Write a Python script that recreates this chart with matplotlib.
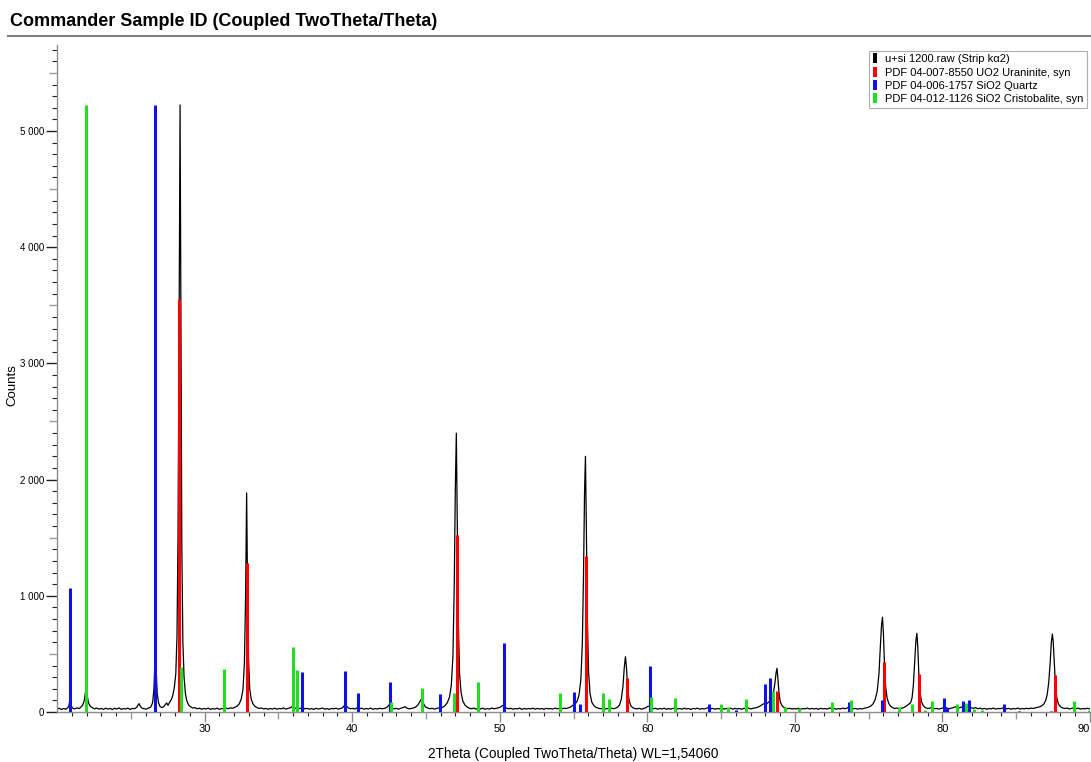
import matplotlib
matplotlib.use('Agg')
import matplotlib.pyplot as plt
import matplotlib.ticker as mticker
from matplotlib.lines import Line2D

plt.rcParams['font.family'] = ['Liberation Sans', 'DejaVu Sans']

# measured scan (2theta, counts)
scan_points = [
    (20.0,25),(20.15,32),(20.3,22),(20.45,30),(20.6,24),(20.72,36),(20.8,48),(20.88,110),(20.95,55),(21.05,34),
    (21.2,26),(21.35,35),(21.5,30),(21.62,42),(21.74,60),(21.84,95),(21.92,160),(21.98,210),(22.05,140),(22.13,80),
    (22.25,50),(22.4,36),(22.55,28),(22.7,34),(22.85,24),(23.0,31),(23.15,22),(23.3,33),(23.45,25),(23.6,30),
    (23.75,21),(23.9,32),(24.05,26),(24.2,35),(24.35,23),(24.5,30),(24.65,25),(24.8,34),(24.95,22),(25.1,31),
    (25.25,28),(25.4,40),(25.5,62),(25.56,72),(25.64,50),(25.75,34),(25.9,28),(26.05,25),(26.2,34),(26.35,42),
    (26.48,80),(26.57,200),(26.63,430),(26.67,560),(26.72,360),(26.79,160),(26.88,80),(26.98,48),(27.1,38),(27.22,45),
    (27.33,62),(27.43,78),(27.52,58),(27.6,75),(27.68,95),(27.76,110),(27.85,145),(27.95,210),(28.05,330),(28.13,650),
    (28.2,1500),(28.27,3200),(28.34,5224),(28.4,3300),(28.46,1400),(28.53,600),(28.61,300),(28.7,160),(28.8,95),(28.92,60),
    (29.05,45),(29.2,34),(29.35,38),(29.5,27),(29.65,33),(29.8,24),(29.95,30),(30.1,26),(30.25,34),(30.4,22),
    (30.55,29),(30.7,25),(30.85,33),(31.0,23),(31.15,30),(31.3,26),(31.45,34),(31.6,28),(31.75,36),(31.9,32),
    (32.05,40),(32.2,50),(32.35,70),(32.48,110),(32.6,190),(32.7,420),(32.78,1000),(32.85,1885),(32.91,1100),(32.98,450),
    (33.06,200),(33.16,110),(33.28,70),(33.4,50),(33.55,38),(33.7,30),(33.85,35),(34.0,26),(34.15,31),(34.3,23),
    (34.45,30),(34.6,25),(34.75,33),(34.9,24),(35.05,30),(35.2,27),(35.35,35),(35.5,25),(35.65,31),(35.8,36),
    (35.95,48),(36.05,40),(36.2,30),(36.35,26),(36.5,33),(36.65,38),(36.8,27),(36.95,31),(37.1,24),(37.25,30),
    (37.4,22),(37.55,32),(37.7,26),(37.85,29),(38.0,34),(38.15,24),(38.3,30),(38.45,22),(38.6,31),(38.75,27),
    (38.9,33),(39.05,25),(39.2,30),(39.35,36),(39.47,55),(39.55,70),(39.63,48),(39.75,34),(39.9,28),(40.05,31),
    (40.2,25),(40.35,38),(40.5,28),(40.65,33),(40.8,24),(40.95,30),(41.1,26),(41.25,34),(41.4,23),(41.55,30),
    (41.7,25),(41.85,32),(42.0,28),(42.15,30),(42.3,36),(42.42,48),(42.5,62),(42.58,45),(42.7,33),(42.85,28),
    (43.0,31),(43.15,24),(43.3,33),(43.45,38),(43.58,46),(43.7,34),(43.85,27),(44.0,30),(44.15,35),(44.3,42),
    (44.45,60),(44.57,85),(44.67,108),(44.76,100),(44.86,65),(44.98,42),(45.12,34),(45.27,28),(45.42,32),(45.57,25),
    (45.72,30),(45.87,36),(46.0,33),(46.15,42),(46.3,55),(46.45,80),(46.6,130),(46.72,230),(46.83,480),(46.92,1100),
    (46.99,1900),(47.06,2400),(47.12,1700),(47.19,800),(47.28,330),(47.38,170),(47.5,95),(47.64,60),(47.8,42),(47.95,33),
    (48.1,28),(48.25,34),(48.4,24),(48.55,31),(48.7,26),(48.85,33),(49.0,23),(49.15,30),(49.3,25),(49.45,34),
    (49.6,28),(49.75,31),(49.9,36),(50.05,42),(50.15,52),(50.24,58),(50.33,44),(50.45,34),(50.6,28),(50.75,32),
    (50.9,24),(51.05,30),(51.2,26),(51.35,34),(51.5,22),(51.65,31),(51.8,25),(51.95,30),(52.1,27),(52.25,33),
    (52.4,24),(52.55,31),(52.7,26),(52.85,30),(53.0,23),(53.15,32),(53.3,27),(53.45,30),(53.6,25),(53.75,34),
    (53.9,28),(54.05,31),(54.2,26),(54.35,33),(54.5,30),(54.65,36),(54.8,42),(54.92,55),(55.02,62),(55.12,70),
    (55.25,95),(55.38,150),(55.5,280),(55.6,600),(55.68,1200),(55.75,1900),(55.81,2200),(55.87,1600),(55.94,800),(56.02,350),
    (56.12,160),(56.24,85),(56.38,55),(56.52,40),(56.68,33),(56.82,28),(56.97,32),(57.12,25),(57.27,30),(57.42,24),
    (57.57,33),(57.72,28),(57.87,34),(58.0,42),(58.12,60),(58.24,110),(58.35,220),(58.44,380),(58.52,476),(58.59,380),
    (58.67,200),(58.77,100),(58.88,55),(59.0,38),(59.15,30),(59.3,26),(59.45,32),(59.6,24),(59.75,30),(59.9,36),
    (60.02,48),(60.12,50),(60.25,36),(60.4,28),(60.55,32),(60.7,24),(60.85,30),(61.0,26),(61.15,33),(61.3,23),
    (61.45,30),(61.6,25),(61.75,31),(61.9,34),(62.05,27),(62.2,30),(62.35,24),(62.5,33),(62.65,26),(62.8,30),
    (62.95,22),(63.1,31),(63.25,27),(63.4,33),(63.55,24),(63.7,30),(63.85,26),(64.0,32),(64.15,38),(64.3,28),
    (64.45,31),(64.6,24),(64.75,30),(64.9,26),(65.05,34),(65.2,25),(65.35,30),(65.5,27),(65.65,33),(65.8,24),
    (65.95,31),(66.1,26),(66.25,30),(66.4,23),(66.55,32),(66.7,28),(66.85,34),(67.0,26),(67.15,31),(67.3,35),
    (67.45,40),(67.6,48),(67.72,58),(67.85,68),(67.97,75),(68.08,70),(68.2,82),(68.32,95),(68.44,120),(68.55,170),
    (68.65,250),(68.73,340),(68.79,376),(68.85,290),(68.92,170),(69.0,95),(69.1,60),(69.22,42),(69.36,34),(69.5,28),
    (69.65,32),(69.8,25),(69.95,30),(70.1,26),(70.25,33),(70.4,24),(70.55,30),(70.7,27),(70.85,34),(71.0,25),
    (71.15,31),(71.3,26),(71.45,30),(71.6,23),(71.75,32),(71.9,27),(72.05,30),(72.2,25),(72.35,34),(72.5,29),
    (72.65,31),(72.8,24),(72.95,30),(73.1,26),(73.25,33),(73.4,28),(73.55,35),(73.7,40),(73.82,32),(73.95,27),
    (74.1,31),(74.25,24),(74.4,30),(74.55,26),(74.7,32),(74.85,36),(75.0,42),(75.15,52),(75.3,70),(75.45,110),
    (75.58,180),(75.7,330),(75.8,580),(75.88,760),(75.94,815),(76.0,680),(76.07,420),(76.15,220),(76.25,120),(76.36,75),
    (76.48,50),(76.62,38),(76.77,30),(76.92,34),(77.07,27),(77.22,32),(77.37,38),(77.52,48),(77.64,60),(77.74,70),
    (77.84,80),(77.94,120),(78.03,230),(78.12,430),(78.2,610),(78.27,677),(78.33,560),(78.4,330),(78.48,170),(78.58,90),
    (78.7,55),(78.84,38),(79.0,30),(79.15,34),(79.3,40),(79.45,28),(79.6,31),(79.75,25),(79.9,30),(80.05,36),
    (80.18,44),(80.3,34),(80.45,28),(80.6,33),(80.75,38),(80.9,45),(81.02,40),(81.15,36),(81.3,42),(81.42,50),
    (81.55,38),(81.7,44),(81.82,48),(81.95,36),(82.1,32),(82.25,38),(82.4,28),(82.55,33),(82.7,26),(82.85,31),
    (83.0,24),(83.15,30),(83.3,27),(83.45,34),(83.6,25),(83.75,30),(83.9,28),(84.05,33),(84.2,38),(84.35,27),
    (84.5,31),(84.65,24),(84.8,30),(84.95,26),(85.1,34),(85.25,25),(85.4,30),(85.55,27),(85.7,32),(85.85,28),
    (86.0,34),(86.15,30),(86.3,36),(86.45,40),(86.6,45),(86.75,55),(86.88,70),(87.0,100),(87.1,150),(87.2,250),
    (87.3,420),(87.38,600),(87.45,671),(87.51,600),(87.58,420),(87.66,230),(87.75,120),(87.86,70),(88.0,45),(88.15,35),
    (88.3,30),(88.45,34),(88.6,26),(88.75,31),(88.9,36),(89.05,28),(89.2,33),(89.35,25),(89.5,30),(89.65,27),
    (89.8,32),(90.0,28),
]
scan_2theta = [p[0] for p in scan_points]
scan_counts = [p[1] for p in scan_points]

# reference patterns (stick positions / scaled intensities)
uo2_pos = [28.29, 32.86, 47.1, 55.86, 58.6, 68.82, 76.06, 78.4, 87.66]
uo2_int = [3550, 1282, 1523, 1343, 290, 180, 433, 324, 318]

quartz_pos = [20.88, 26.64, 36.63, 39.53, 40.39, 42.58, 45.92, 50.26, 55.03, 55.46, 60.16, 64.2,
              66.03, 67.95, 68.34, 73.65, 75.93, 80.14, 80.3, 81.4, 81.8, 84.16, 85.17, 87.39]
quartz_int = [1070, 5224, 344, 353, 161, 258, 155, 591, 175, 69, 396, 69,
              17, 238, 290, 89, 103, 123, 34, 95, 103, 66, 10, 8]

crist_pos = [21.95, 28.4, 31.34, 36.02, 36.25, 42.6, 44.75, 46.92, 48.52, 54.06, 57.0, 57.38,
             60.22, 61.9, 65.0, 65.47, 66.69, 68.52, 69.36, 70.26, 72.52, 73.81, 77.08, 77.94,
             78.85, 79.3, 80.99, 81.6, 82.16, 82.7, 88.9, 89.9]
crist_int = [5224, 384, 370, 559, 361, 89, 204, 166, 258, 163, 161, 109,
             132, 123, 69, 40, 112, 181, 40, 37, 89, 103, 40, 66,
             20, 95, 66, 75, 30, 20, 95, 15]

legend_labels = ['u+si 1200.raw (Strip k\u03b12)',
                 'PDF 04-007-8550 UO2 Uraninite, syn',
                 'PDF 04-006-1757 SiO2 Quartz',
                 'PDF 04-012-1126 SiO2 Cristobalite, syn']
colors = ['black', '#ff0000', '#1010ee', '#22dd22']

W, H = 1091, 762
fig = plt.figure(figsize=(W / 100, H / 100), dpi=100)
ax = fig.add_axes([57 / W, 1 - 712 / H, (1090 - 57) / W, (712 - 45) / H])

ax.plot(scan_2theta, scan_counts, color='black', lw=0.9, zorder=2)
ax.vlines(uo2_pos, 0, uo2_int, colors=colors[1], lw=2.2, zorder=3)
ax.vlines(quartz_pos, 0, quartz_int, colors=colors[2], lw=2.2, zorder=3)
ax.vlines(crist_pos, 0, crist_int, colors=colors[3], lw=2.2, zorder=3)

ax.set_xlim(20, 90)
ax.set_ylim(0, 5740)
for s in ['top', 'right']:
    ax.spines[s].set_visible(False)
for s in ['left', 'bottom']:
    ax.spines[s].set_color('#8c8c8c')
    ax.spines[s].set_linewidth(1.0)

ax.set_yticks(range(0, 5001, 1000))
ax.yaxis.set_major_formatter(mticker.FuncFormatter(lambda v, p: '{:,}'.format(int(v)).replace(',', ' ')))
ax.set_yticks([v for v in range(100, 5701, 100) if v % 500 != 0], minor=True)
ax.set_xticks(range(30, 91, 10))
ax.set_xticks([v for v in range(21, 90) if v % 5 != 0], minor=True)
ax.tick_params(axis='y', which='major', length=8, width=1, color='#222222', labelsize=7, pad=1.5)
ax.tick_params(axis='y', which='minor', length=3.5, width=0.8, color='#222222')
ax.tick_params(axis='x', which='major', length=7, width=1, color='#8c8c8c', labelsize=8, pad=2)
ax.tick_params(axis='x', which='minor', length=3, width=0.8, color='#222222')
# last x label sits at the figure edge, keep it inside
ax.get_xticklabels()[-1].set_horizontalalignment('right')

# medium ticks at the halves
ax_y5 = ax.twinx()
ax_y5.set_ylim(ax.get_ylim())
ax_y5.yaxis.tick_left()
ax_y5.set_yticks(range(500, 5600, 1000))
ax_y5.tick_params(length=5.5, width=1, color='#9a9a9a', labelleft=False, labelright=False)
ax_x5 = ax.twiny()
ax_x5.set_xlim(ax.get_xlim())
ax_x5.xaxis.tick_bottom()
ax_x5.set_xticks(range(25, 90, 10))
ax_x5.tick_params(length=5, width=1, color='#9a9a9a', labelbottom=False, labeltop=False)
for a in (ax_y5, ax_x5):
    for s in a.spines.values():
        s.set_visible(False)

handles = [Line2D([], [], ls='none', marker=[(-1, -3.3), (1, -3.3), (1, 3.3), (-1, 3.3)],
                  markersize=7.5, color=c, markeredgewidth=0) for c in colors]
leg = ax.legend(handles, legend_labels, loc='upper right', bbox_to_anchor=(1087 / W, 1 - 51 / H),
                bbox_transform=fig.transFigure, fontsize=8, frameon=True, fancybox=False,
                handlelength=0.5, handletextpad=0.7, labelspacing=0.3, borderpad=0.3,
                borderaxespad=0)
leg.get_frame().set_edgecolor('#9a9a9a')
leg.get_frame().set_linewidth(0.8)

fig.text(10 / W, 1 - 21 / H, 'Commander Sample ID (Coupled TwoTheta/Theta)', fontsize=13,
         fontweight='bold', ha='left', va='center')
fig.add_artist(Line2D([8 / W, 1], [1 - 35.5 / H] * 2, color='#808080', lw=1.5))
fig.text(573 / W, 1 - 754 / H, '2Theta (Coupled TwoTheta/Theta) WL=1,54060', fontsize=9.8,
         ha='center', va='center')
fig.text(12 / W, 1 - 385 / H, 'Counts', fontsize=9.5, rotation=90, ha='center', va='center')

fig.savefig('out.png', dpi=100)
